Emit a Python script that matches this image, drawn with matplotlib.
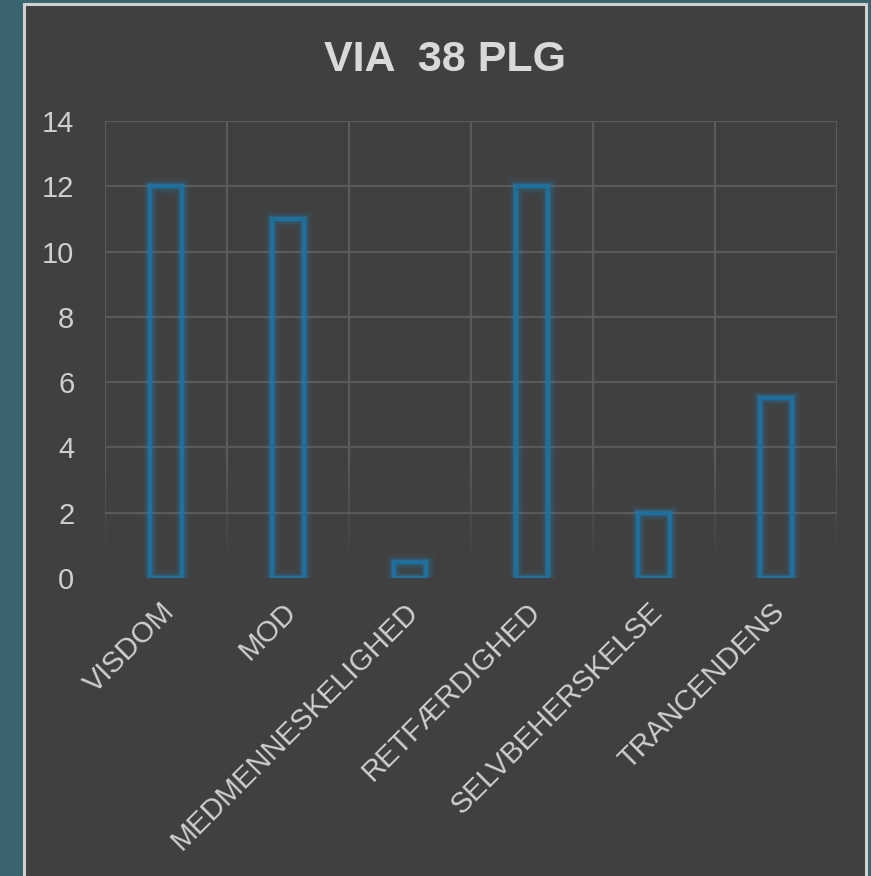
import numpy as np
import matplotlib.pyplot as plt
import matplotlib.transforms as mtransforms
from matplotlib.patches import Rectangle
from matplotlib.collections import LineCollection

categories = ["VISDOM", "MOD", "MEDMENNESKELIGHED", "RETFÆRDIGHED",
              "SELVBEHERSKELSE", "TRANCENDENS"]
values = [12, 11, 0.5, 12, 2, 5.5]
title = "VIA  38 PLG"

plt.rcParams['font.family'] = ['Liberation Sans', 'DejaVu Sans']

fig = plt.figure(figsize=(8.71, 8.76), dpi=100, facecolor="#3a6470")

# inner panel with light border
panel = Rectangle((0.0276, -0.02), 0.9667, 1.0154, transform=fig.transFigure,
                  facecolor="#404040", edgecolor="#d0d0d0", linewidth=2.2, zorder=-10)
fig.patches.append(panel)

ax = fig.add_axes([0.1206, 0.3402, 0.8404, 0.5217])
ax.set_facecolor("none")

x = np.arange(len(categories))
width = 0.26
ymax = 14

# glow layers
for lw, a in [(12, 0.05), (9, 0.08), (6.5, 0.12), (4.5, 0.2), (3, 0.35)]:
    ax.bar(x, values, width, facecolor="none", edgecolor="#1f8cc8",
           linewidth=lw, alpha=a, zorder=3)
ax.bar(x, values, width, facecolor="none", edgecolor="#1b70a0",
       linewidth=2, zorder=4)

# horizontal grid (no line at 0)
for yv in np.arange(2, ymax + 1, 2):
    ax.axhline(yv, color="#5a5a5a", linewidth=1.6, zorder=1)

# vertical grid lines between categories, fading towards the bottom
ys = np.linspace(0, ymax, 141)
segs, cols = [], []
for xb in np.arange(-0.5, len(categories), 1):
    for y0, y1 in zip(ys[:-1], ys[1:]):
        segs.append([(xb, y0), (xb, y1)])
        a = np.clip((y0 - 0.5) / 3.0, 0, 1)
        cols.append((0.353, 0.353, 0.353, a))
ax.add_collection(LineCollection(segs, colors=cols, linewidths=1.6, zorder=1))

ax.set_xlim(-0.5, len(categories) - 0.5)
ax.set_ylim(0, ymax)
ax.set_yticks(np.arange(0, ymax + 1, 2))
ax.set_xticks(x)
ax.set_xticklabels(categories, rotation=45, ha="right", rotation_mode="anchor",
                   fontsize=21, color="#cfcfcf")
ax.tick_params(axis="y", labelsize=21, labelcolor="#cfcfcf", length=0, pad=22)
ax.tick_params(axis="x", length=0, pad=14)
shift = mtransforms.ScaledTranslation(-6 / 100, 0, fig.dpi_scale_trans)
for lab in ax.get_xticklabels():
    lab.set_transform(lab.get_transform() + shift)
for s in ax.spines.values():
    s.set_visible(False)

fig.text(0.511, 0.932, title, ha="center", va="center", fontsize=31,
         fontweight="bold", color="#d9d9d9")

fig.savefig("out.png", dpi=100, facecolor=fig.get_facecolor())
